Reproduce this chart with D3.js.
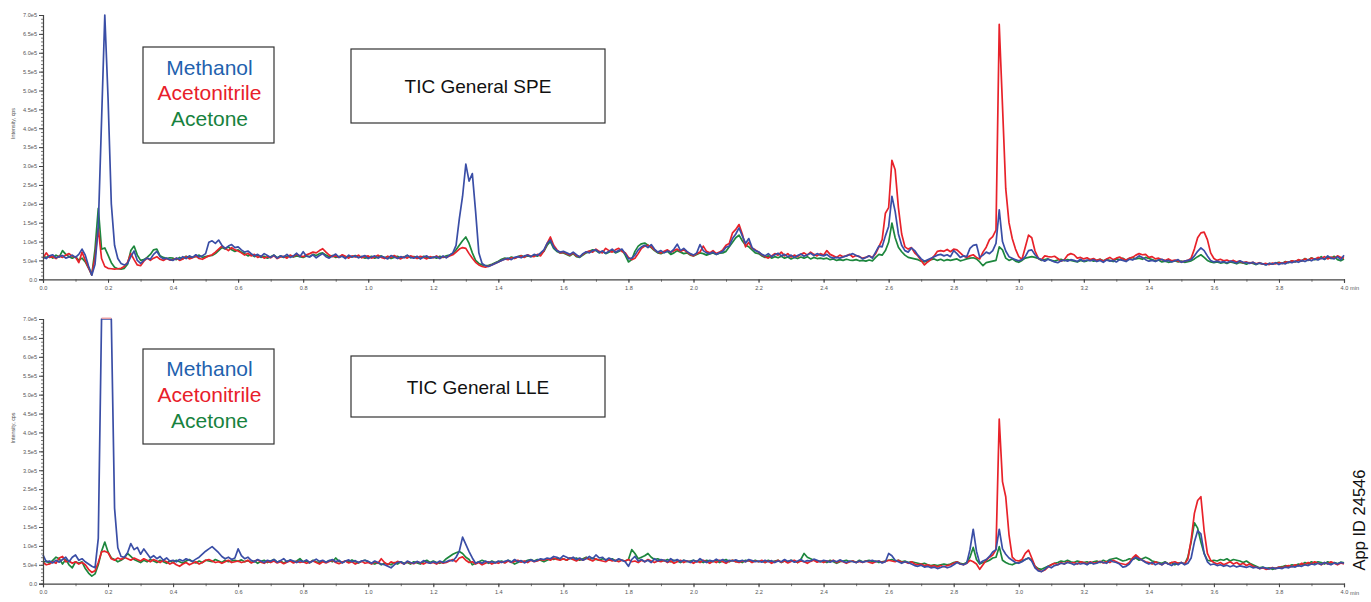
<!DOCTYPE html>
<html>
<head>
<meta charset="utf-8">
<script src="https://cdn.jsdelivr.net/npm/d3@7"></script>
<style>
  html, body { margin: 0; padding: 0; background: #fff; }
  svg { display: block; font-family: "Liberation Sans", Arial, Helvetica, sans-serif; }
</style>
</head>
<body>
<div id="chart"></div>
<script>
// Total ion chromatograms, one reading every 0.01 min from 0.00 to 4.00 min.
// Intensities are in units of 1e4 cps.
const startMin = 0;
const stepMin = 0.01;

const seriesNames = ["Methanol", "Acetonitrile", "Acetone"];

// ---- General SPE ----
const speMethanol = [
  5.8, 5.5, 6.2, 6.5, 5.7, 6.0, 6.3, 5.6, 5.9, 6.4, 5.8, 6.6, 8.0, 6.4, 3.5, 1.1, 4.0, 14, 42, 70,
  48, 20, 9, 5.5, 4.2, 3.8, 4.2, 6.0, 7.5, 5.0, 4.2, 5.0, 5.6, 5.3, 6.6, 7.4, 6.0, 5.4, 5.6, 5.2,
  5.0, 5.6, 5.3, 6.0, 5.5, 6.2, 5.8, 6.5, 5.9, 6.2, 6.8, 9.8, 10.2, 9.5, 10.4, 9.0, 8.2, 8.8, 9.2, 8.4,
  8.6, 7.8, 7.2, 7.5, 6.8, 6.2, 6.6, 6.0, 6.8, 6.3, 5.8, 6.4, 5.6, 6.2, 5.9, 6.6, 5.8, 6.2, 6.9, 6.0,
  7.3, 6.1, 5.9, 6.5, 5.7, 6.3, 6.8, 6.0, 5.6, 6.2, 6.7, 5.8, 6.1, 5.5, 6.4, 5.9, 6.2, 5.7, 6.0, 6.3,
  5.5, 5.9, 6.2, 5.6, 6.1, 5.8, 5.4, 6.3, 5.9, 5.5, 6.0, 5.7, 6.4, 5.8, 5.6, 6.1, 5.4, 5.9, 6.2, 5.6,
  5.8, 6.0, 5.5, 6.2, 5.7, 6.4, 7.0, 9.0, 16, 22, 30.5, 26, 28, 18, 7.0, 4.2, 3.6, 3.4, 3.8, 4.2,
  4.6, 5.0, 5.3, 5.6, 5.2, 5.8, 6.0, 5.7, 6.2, 6.4, 6.0, 6.6, 6.3, 7.0, 7.8, 9.5, 10.4, 8.5, 7.6, 7.2,
  7.4, 7.0, 6.6, 7.2, 6.5, 5.9, 6.8, 7.3, 7.0, 7.6, 7.8, 7.1, 7.5, 6.9, 7.4, 8.0, 7.2, 7.6, 8.0, 6.8,
  5.4, 5.6, 6.4, 7.8, 8.6, 9.0, 8.4, 9.2, 8.0, 7.2, 7.6, 7.0, 7.5, 7.2, 8.0, 9.3, 7.6, 8.2, 7.4, 6.8,
  6.4, 7.0, 9.2, 7.6, 7.0, 6.8, 7.2, 6.6, 7.0, 7.4, 8.5, 8.8, 10.8, 12.0, 13.6, 11.5, 9.5, 10.8, 8.4, 7.6,
  7.3, 6.6, 6.2, 6.8, 6.0, 6.5, 6.9, 6.2, 6.6, 6.0, 6.4, 5.8, 6.3, 6.7, 6.1, 6.5, 6.9, 6.3, 6.8, 6.4,
  6.2, 6.6, 5.9, 5.6, 5.8, 5.6, 5.9, 6.2, 6.5, 6.8, 6.3, 6.0, 5.4, 5.8, 6.2, 5.6, 7.2, 8.8, 8.6, 11.5,
  14, 22, 18, 12, 9, 7.6, 7.2, 8.3, 7.6, 6.4, 5.4, 4.8, 5.2, 5.6, 6.0, 6.4, 6.6, 6.2, 6.5, 6.0,
  7.6, 6.8, 5.8, 6.2, 6.0, 8.2, 9.0, 9.2, 5.8, 6.4, 7.2, 6.8, 7.6, 9.5, 18.4, 10, 7.5, 6.0, 5.6, 5.2,
  4.9, 5.2, 6.0, 7.6, 7.8, 6.5, 5.6, 5.2, 4.8, 5.3, 5.0, 4.6, 4.4, 4.9, 5.1, 4.8, 5.2, 5.0, 4.7, 5.3,
  4.8, 5.1, 4.9, 5.2, 4.7, 5.0, 4.5, 5.1, 4.8, 5.0, 4.6, 5.2, 5.0, 4.7, 5.3, 5.1, 5.6, 6.2, 5.8, 5.2,
  4.8, 5.0, 4.7, 5.1, 5.3, 4.8, 5.0, 4.6, 4.9, 5.2, 4.5, 4.8, 5.0, 5.2, 6.2, 7.4, 8.3, 7.6, 6.2, 5.0,
  4.6, 4.8, 4.5, 4.7, 4.4, 4.8, 4.6, 4.3, 4.9, 4.5, 4.4, 4.2, 4.5, 4.0, 4.3, 4.1, 3.8, 4.2, 4.0, 4.4,
  3.9, 4.3, 4.1, 4.6, 4.4, 4.8, 4.5, 5.0, 4.7, 5.2, 4.9, 5.4, 5.1, 5.6, 5.3, 6.2, 5.6, 5.4, 6.0, 5.2,
  6.4
];
const speAcetonitrile = [
  5.6, 7.0, 5.8, 6.0, 5.5, 6.2, 5.8, 6.4, 6.8, 6.1, 5.9, 4.4, 7.2, 5.0, 3.0, 1.2, 6.0, 13.5, 5.5, 3.4,
  2.9, 2.8, 2.7, 2.8, 2.9, 3.4, 4.5, 6.8, 5.2, 3.8, 3.6, 4.8, 5.6, 5.0, 5.6, 6.0, 5.3, 5.0, 5.5, 5.1,
  5.2, 5.6, 5.0, 5.4, 6.0, 5.4, 5.7, 6.2, 5.5, 5.3, 5.8, 6.2, 6.5, 7.2, 8.0, 8.8, 8.2, 7.6, 8.4, 7.8,
  7.5, 7.0, 6.4, 6.9, 6.2, 6.6, 5.8, 6.2, 5.6, 6.0, 5.7, 6.3, 5.5, 5.9, 6.1, 5.6, 6.4, 6.0, 6.6, 6.2,
  6.0, 6.5, 6.8, 7.2, 7.0, 7.6, 8.1, 7.2, 6.4, 6.0, 6.2, 5.8, 6.5, 6.1, 5.6, 6.2, 5.9, 6.4, 5.7, 6.0,
  6.2, 5.6, 5.9, 6.4, 5.8, 5.5, 6.1, 5.8, 6.3, 5.7, 5.4, 6.0, 5.6, 6.2, 5.9, 5.5, 6.1, 5.8, 5.4, 6.0,
  5.7, 6.2, 5.6, 6.0, 5.8, 6.2, 6.5, 7.2, 8.0, 8.4, 8.2, 6.8, 5.6, 4.5, 3.8, 3.4, 3.2, 3.5, 3.8, 4.2,
  4.6, 5.0, 5.4, 5.2, 5.7, 5.5, 5.9, 6.2, 5.8, 6.5, 6.1, 6.0, 6.6, 6.2, 7.5, 9.5, 11.2, 9.0, 7.8, 7.0,
  7.2, 6.8, 6.4, 7.0, 6.2, 6.0, 6.6, 7.2, 7.5, 7.2, 8.0, 7.4, 7.0, 8.2, 7.6, 7.2, 7.8, 8.2, 7.4, 7.0,
  5.8, 5.2, 5.6, 6.8, 8.2, 8.8, 9.0, 8.6, 7.8, 7.2, 7.0, 7.4, 7.8, 7.2, 7.6, 8.0, 7.4, 7.8, 7.2, 6.6,
  6.2, 6.8, 7.2, 8.8, 7.4, 7.0, 7.6, 6.8, 7.2, 7.8, 9.0, 9.5, 12.3, 13.2, 14.5, 12.0, 8.6, 9.8, 8.2, 7.8,
  7.2, 6.5, 6.0, 5.6, 6.2, 6.8, 6.4, 7.2, 6.2, 6.8, 5.9, 6.4, 6.0, 6.6, 7.0, 6.4, 7.2, 6.6, 6.2, 6.8,
  6.4, 7.6, 6.6, 6.2, 5.8, 6.4, 6.0, 6.2, 6.6, 5.9, 6.3, 6.0, 5.6, 5.8, 6.2, 5.8, 6.8, 8.6, 10.5, 17.5,
  19, 31.5, 29, 19, 12, 8.6, 8.0, 8.4, 7.0, 6.2, 5.0, 3.8, 4.6, 5.2, 6.2, 7.4, 7.6, 7.4, 7.9, 7.3,
  8.0, 7.8, 7.0, 6.2, 5.8, 6.2, 6.5, 5.8, 5.4, 7.2, 8.5, 10.5, 11.3, 13, 67.5, 46, 24, 15, 10.8, 8,
  6.0, 5.3, 8.5, 11.7, 11.0, 7.5, 5.6, 5.2, 6.2, 6.0, 5.9, 6.1, 5.5, 4.8, 5.2, 6.4, 6.8, 6.5, 5.6, 5.8,
  5.4, 5.7, 5.2, 5.5, 5.0, 5.3, 4.8, 5.4, 5.8, 5.2, 5.6, 5.9, 5.4, 5.1, 5.6, 5.8, 6.4, 6.8, 6.5, 6.6,
  5.8, 6.0, 5.4, 5.6, 5.2, 5.0, 5.4, 4.9, 5.1, 4.8, 4.6, 4.8, 5.0, 5.6, 8.0, 11.0, 12.3, 12.5, 10.5, 7.0,
  5.5, 5.0, 5.3, 4.9, 5.1, 4.7, 5.0, 4.6, 4.8, 4.4, 4.6, 4.3, 4.5, 4.1, 4.4, 4.0, 4.2, 3.9, 4.3, 4.1,
  4.4, 4.2, 4.6, 4.5, 4.9, 4.7, 5.2, 4.9, 5.4, 5.1, 5.6, 5.3, 5.8, 5.5, 6.0, 5.4, 5.9, 5.6, 6.2, 5.8,
  5.6
];
const speAcetone = [
  6.0, 5.8, 6.2, 5.6, 6.4, 5.9, 7.6, 6.6, 6.0, 5.6, 6.0, 5.0, 5.6, 4.6, 3.0, 1.2, 8.0, 18.8, 8.0, 8.3,
  6.4, 4.4, 3.2, 2.8, 2.7, 2.9, 4.0, 7.6, 8.8, 6.4, 5.0, 5.2, 5.8, 6.6, 7.8, 8.0, 6.2, 5.8, 5.5, 5.7,
  5.6, 5.2, 5.8, 5.4, 6.1, 5.7, 5.9, 6.0, 6.4, 5.8, 6.0, 6.2, 6.3, 6.8, 7.6, 8.4, 8.0, 8.6, 7.8, 7.4,
  7.8, 7.2, 6.8, 6.2, 6.6, 6.0, 6.4, 5.8, 6.1, 5.6, 6.0, 6.4, 5.7, 6.2, 5.8, 6.0, 6.3, 5.9, 6.2, 6.0,
  5.8, 6.2, 6.0, 6.6, 6.3, 6.8, 7.0, 6.4, 6.0, 6.3, 5.8, 6.0, 6.2, 5.7, 6.1, 5.9, 6.3, 5.8, 6.0, 5.6,
  5.8, 6.1, 5.6, 5.9, 6.2, 5.7, 6.0, 5.5, 5.8, 6.1, 5.6, 5.9, 6.3, 5.7, 6.0, 5.8, 5.5, 6.1, 5.8, 5.6,
  5.9, 5.6, 6.1, 5.8, 6.2, 6.4, 6.8, 7.8, 9.0, 10.2, 11.2, 9.5, 7.0, 5.0, 4.2, 3.8, 3.6, 3.7, 4.0, 4.4,
  4.8, 5.3, 5.6, 5.4, 5.9, 5.6, 6.0, 6.3, 5.9, 6.2, 6.0, 6.4, 6.1, 6.8, 7.4, 9.0, 10.0, 8.2, 7.4, 7.0,
  7.0, 6.6, 6.2, 6.8, 6.0, 5.8, 6.4, 7.0, 7.4, 7.8, 7.6, 7.0, 7.4, 6.8, 7.2, 7.6, 7.0, 7.4, 7.8, 6.4,
  4.6, 5.2, 7.4, 8.8, 9.4, 9.6, 9.0, 8.4, 7.6, 7.0, 6.8, 7.2, 7.4, 6.6, 7.0, 7.6, 7.2, 6.8, 7.0, 6.4,
  6.2, 6.6, 7.0, 6.8, 6.4, 6.7, 7.0, 6.6, 6.9, 7.0, 7.4, 8.6, 9.8, 11.0, 11.7, 10.2, 9.0, 8.6, 7.8, 7.0,
  6.8, 6.2, 5.8, 6.2, 5.6, 6.0, 5.7, 6.1, 5.6, 5.9, 5.4, 5.8, 5.5, 5.9, 5.6, 6.0, 5.4, 5.8, 5.5, 5.6,
  5.4, 5.6, 5.2, 5.4, 5.0, 5.2, 5.0, 5.3, 5.1, 5.0, 5.2, 4.9, 5.0, 4.8, 5.1, 4.9, 5.8, 6.6, 6.4, 7.6,
  9.8, 14.9, 11.0, 8.5, 7.3, 6.4, 5.8, 5.6, 5.4, 5.2, 4.8, 4.6, 4.9, 5.2, 5.4, 5.0, 5.3, 4.9, 5.2, 5.0,
  5.2, 5.4, 4.9, 5.1, 5.4, 5.6, 5.7, 5.4, 4.6, 3.6, 4.4, 4.6, 4.8, 5.0, 8.6, 7.8, 5.6, 5.0, 5.4, 4.8,
  4.5, 5.0, 5.6, 5.8, 6.0, 5.8, 5.5, 5.0, 5.2, 5.4, 5.0, 4.8, 5.1, 5.3, 4.9, 5.2, 5.0, 4.8, 4.6, 5.0,
  4.7, 4.9, 5.2, 4.8, 5.0, 5.3, 4.9, 5.2, 5.0, 4.7, 5.4, 5.2, 5.6, 5.0, 5.5, 5.8, 5.4, 5.6, 5.3, 5.8,
  5.5, 5.2, 4.9, 5.1, 4.6, 4.8, 4.5, 4.7, 4.9, 4.6, 4.8, 4.5, 4.7, 4.9, 5.4, 6.0, 6.5, 5.8, 5.0, 4.6,
  4.4, 4.6, 4.3, 4.5, 4.2, 4.6, 4.4, 4.1, 4.5, 4.3, 4.0, 4.4, 4.2, 3.9, 4.3, 4.1, 3.9, 4.2, 4.0, 4.3,
  4.5, 4.2, 4.7, 4.4, 4.9, 4.6, 5.1, 4.8, 5.5, 5.0, 5.7, 5.2, 5.4, 6.0, 5.3, 5.8, 5.5, 6.1, 5.2, 4.9,
  5.4
];

// ---- General LLE ----  (methanol saturates the detector near 0.2 min)
const lleMethanol = [
  7.6, 5.8, 6.0, 5.5, 6.2, 5.7, 6.4, 7.0, 5.8, 7.0, 7.6, 6.2, 6.6, 5.8, 5.2, 4.6, 4.2, 12, 82, 95,
  90, 76, 20, 9.5, 7.2, 7.0, 8.2, 10.6, 9.0, 9.6, 7.8, 9.2, 8.0, 6.8, 7.4, 6.6, 7.2, 6.2, 6.8, 6.0,
  6.2, 5.8, 6.4, 6.0, 6.6, 6.2, 5.9, 6.5, 7.0, 7.8, 8.6, 9.2, 9.8, 9.0, 8.2, 7.2, 6.6, 7.0, 6.4, 6.8,
  9.2, 7.4, 6.6, 7.0, 6.2, 5.8, 6.4, 6.0, 5.6, 6.2, 5.9, 6.4, 5.7, 6.1, 6.6, 5.8, 6.3, 6.0, 5.6, 6.1,
  5.8, 6.3, 5.6, 6.0, 6.5, 5.9, 6.2, 5.7, 6.1, 6.4, 5.8, 6.2, 5.5, 6.0, 6.3, 5.8, 6.1, 5.6, 6.0, 6.2,
  5.9, 5.4, 6.0, 5.6, 5.2, 5.0, 4.6, 4.2, 5.0, 5.6, 5.8, 5.2, 6.0, 5.6, 5.4, 5.9, 5.5, 6.1, 5.7, 5.4,
  5.8, 5.5, 6.0, 5.6, 5.8, 6.2, 6.0, 7.0, 8.6, 12.3, 10.4, 8.5, 6.8, 5.4, 5.8, 5.4, 6.0, 5.6, 5.8, 5.5,
  6.0, 5.6, 5.9, 6.2, 5.7, 6.4, 5.8, 6.1, 5.5, 6.0, 6.3, 5.9, 6.2, 6.6, 6.4, 6.8, 6.6, 7.2, 7.0, 6.6,
  7.4, 7.0, 6.6, 7.0, 6.4, 6.8, 6.2, 6.6, 7.2, 6.6, 7.6, 6.8, 7.0, 6.2, 6.8, 6.4, 6.0, 6.6, 6.2, 5.8,
  4.6, 6.4, 7.2, 6.0, 6.4, 5.8, 6.2, 5.6, 6.6, 6.0, 6.4, 6.2, 5.8, 6.6, 6.0, 6.4, 5.8, 6.2, 6.0, 5.6,
  6.2, 5.8, 6.6, 6.0, 5.6, 6.2, 5.9, 6.5, 6.0, 6.4, 5.8, 6.2, 6.0, 6.3, 5.9, 6.2, 5.8, 6.4, 6.1, 5.8,
  6.0, 5.7, 6.2, 5.8, 6.1, 5.6, 6.0, 5.8, 6.4, 5.9, 6.2, 5.7, 6.0, 6.4, 5.8, 6.1, 6.0, 6.5, 6.2, 5.8,
  6.2, 6.0, 5.7, 6.1, 5.8, 6.3, 5.9, 5.6, 6.0, 5.8, 5.6, 6.0, 5.7, 5.9, 6.0, 6.2, 5.8, 6.0, 5.5, 5.8,
  8.0, 7.4, 6.2, 5.8, 5.4, 5.8, 5.6, 5.2, 4.8, 4.6, 4.9, 4.4, 4.6, 4.2, 4.4, 4.0, 4.3, 4.6, 4.2, 4.5,
  5.0, 5.6, 5.2, 5.0, 5.4, 9.0, 14.4, 8.6, 5.4, 6.0, 6.4, 7.2, 8.4, 9.0, 14.4, 9.2, 7.8, 6.8, 6.2, 5.6,
  5.4, 5.8, 6.4, 6.8, 6.0, 4.2, 3.4, 3.2, 3.8, 4.6, 4.2, 4.8, 5.0, 5.4, 5.2, 5.6, 5.4, 5.0, 5.4, 5.2,
  5.4, 5.0, 5.6, 5.2, 5.4, 5.8, 5.6, 5.4, 6.2, 5.8, 5.6, 5.2, 4.4, 4.6, 5.2, 6.4, 7.0, 6.6, 6.2, 5.6,
  5.2, 5.6, 5.0, 5.4, 5.0, 5.6, 5.2, 4.8, 5.4, 5.0, 5.6, 5.0, 5.4, 6.8, 11.0, 14.0, 13.2, 8.0, 5.8, 5.0,
  5.2, 4.8, 5.0, 4.6, 4.9, 4.5, 4.8, 4.4, 4.7, 4.5, 4.3, 4.6, 4.2, 4.4, 4.0, 4.3, 4.1, 3.9, 4.2, 4.0,
  4.2, 4.0, 4.4, 4.2, 4.6, 4.4, 4.8, 4.6, 5.0, 4.8, 5.2, 5.0, 5.4, 5.1, 5.6, 5.3, 5.0, 5.5, 5.2, 5.6,
  5.4
];
const lleAcetonitrile = [
  5.6, 5.0, 5.2, 5.8, 5.4, 6.8, 7.2, 5.8, 6.0, 5.4, 5.8, 5.2, 5.6, 5.0, 3.8, 3.0, 3.4, 5.6, 8.4, 8.6,
  8.2, 6.6, 6.2, 6.8, 6.4, 7.0, 6.6, 6.2, 6.8, 6.4, 6.0, 6.6, 6.2, 5.8, 6.4, 6.0, 5.6, 6.2, 5.8, 5.2,
  5.6, 5.0, 4.6, 5.2, 5.6, 5.0, 5.4, 5.8, 5.2, 5.6, 6.2, 6.4, 6.0, 5.6, 5.8, 5.4, 5.8, 6.2, 5.6, 5.8,
  6.0, 5.6, 5.8, 6.2, 5.5, 5.9, 6.3, 5.7, 5.4, 5.9, 5.6, 6.0, 5.5, 5.8, 5.3, 5.7, 6.0, 5.5, 5.9, 5.6,
  5.8, 5.4, 5.7, 6.0, 5.6, 5.2, 5.8, 5.5, 5.9, 6.2, 5.6, 5.3, 5.7, 6.0, 5.5, 5.8, 5.2, 5.6, 5.9, 5.4,
  5.6, 5.2, 5.8, 5.4, 6.6, 5.6, 5.0, 5.8, 5.4, 5.9, 5.6, 5.2, 5.8, 5.5, 5.3, 5.8, 5.5, 5.2, 5.7, 5.4,
  5.6, 5.2, 5.8, 5.4, 5.6, 6.0, 6.4, 5.8, 6.8, 7.1, 6.2, 5.6, 5.8, 5.2, 5.6, 5.0, 5.4, 5.8, 5.2, 5.6,
  5.4, 5.8, 5.5, 6.0, 5.6, 5.9, 6.2, 5.7, 6.0, 5.6, 6.2, 5.8, 6.0, 6.4, 6.2, 6.6, 6.2, 6.8, 6.4, 6.2,
  6.6, 6.2, 6.8, 6.4, 6.0, 6.6, 6.2, 6.8, 6.4, 6.0, 6.6, 6.2, 6.0, 5.8, 6.4, 6.0, 6.2, 5.8, 6.2, 6.0,
  6.4, 5.8, 6.0, 5.6, 6.2, 5.8, 6.4, 6.0, 5.6, 6.0, 5.8, 6.2, 5.6, 6.0, 5.4, 5.8, 6.2, 5.6, 6.0, 5.8,
  5.4, 6.0, 5.6, 6.2, 5.8, 5.4, 6.0, 5.6, 6.2, 5.8, 5.4, 6.0, 6.2, 5.8, 5.6, 6.0, 5.8, 6.2, 5.6, 6.0,
  5.8, 6.2, 5.6, 6.0, 5.4, 5.8, 6.2, 5.7, 6.0, 5.5, 5.9, 6.2, 5.6, 6.0, 5.8, 5.4, 5.9, 6.2, 5.7, 6.0,
  5.6, 6.0, 5.8, 6.2, 5.6, 6.0, 5.8, 5.4, 5.8, 6.0, 5.6, 5.9, 5.6, 6.0, 5.7, 5.4, 5.8, 6.0, 5.6, 5.9,
  6.2, 6.0, 5.8, 6.2, 5.6, 5.8, 5.4, 5.8, 5.2, 5.0, 5.2, 4.8, 5.0, 4.6, 4.8, 4.4, 4.8, 4.5, 4.8, 5.0,
  5.4, 5.8, 5.2, 5.0, 5.4, 6.2, 5.8, 5.2, 3.8, 5.0, 6.2, 7.0, 7.6, 9.0, 43.5, 27, 23, 13, 7.0, 6.2,
  6.0, 6.4, 8.0, 8.9, 6.8, 4.6, 3.6, 3.2, 3.6, 4.4, 5.0, 5.4, 5.0, 5.6, 5.2, 5.8, 5.4, 5.6, 5.2, 5.8,
  5.6, 5.2, 5.8, 5.4, 5.6, 5.9, 5.5, 5.8, 5.6, 6.2, 5.8, 5.4, 5.2, 5.0, 5.6, 6.8, 7.6, 6.8, 6.2, 5.8,
  5.6, 5.2, 5.8, 5.4, 5.0, 5.6, 5.2, 5.6, 5.8, 5.4, 5.6, 5.2, 6.5, 11.5, 18.6, 22.0, 23.0, 14.0, 8.0, 6.2,
  5.6, 5.2, 5.6, 5.0, 5.4, 5.8, 5.2, 5.6, 5.0, 5.4, 4.8, 5.2, 4.6, 4.4, 4.0, 4.2, 3.8, 4.0, 4.3, 4.0,
  4.4, 4.2, 4.6, 4.8, 4.5, 5.0, 4.7, 5.4, 5.0, 5.6, 5.2, 5.8, 5.4, 5.0, 5.6, 5.2, 5.8, 5.4, 5.0, 5.5,
  5.2
];
const lleAcetone = [
  5.6, 6.0, 5.4, 6.2, 7.0, 6.6, 5.2, 6.4, 5.0, 4.2, 5.8, 5.4, 5.8, 4.0, 2.8, 2.0, 2.6, 5.0, 8.6, 11.0,
  8.4, 6.8, 6.4, 5.8, 6.2, 6.8, 8.0, 7.2, 6.4, 6.0, 5.6, 6.2, 5.8, 6.4, 6.0, 5.6, 6.2, 5.8, 5.4, 6.0,
  5.6, 6.2, 5.8, 5.4, 6.0, 6.4, 5.8, 5.5, 6.0, 5.6, 6.2, 6.0, 5.8, 6.4, 6.0, 5.6, 6.2, 5.8, 6.0, 6.2,
  5.9, 6.3, 5.8, 6.1, 5.6, 6.0, 5.4, 5.9, 6.2, 5.6, 6.0, 6.4, 5.7, 6.0, 5.5, 5.9, 6.2, 5.8, 6.0, 6.6,
  5.8, 6.0, 5.5, 6.2, 5.8, 5.6, 6.0, 5.7, 6.1, 5.8, 6.8, 5.9, 5.6, 6.0, 5.7, 6.3, 5.8, 5.5, 6.0, 6.2,
  5.8, 5.4, 5.2, 5.6, 5.0, 5.4, 5.2, 5.0, 5.6, 5.2, 5.8, 5.4, 5.6, 5.2, 5.8, 5.5, 5.2, 5.8, 6.2, 5.6,
  6.0, 5.6, 5.4, 5.8, 6.6, 7.2, 7.8, 8.2, 8.5, 8.0, 7.0, 6.4, 5.0, 5.4, 5.8, 6.2, 5.8, 5.4, 6.0, 5.6,
  5.8, 6.0, 5.6, 6.2, 5.8, 5.2, 5.6, 6.0, 5.8, 6.2, 6.4, 6.0, 6.4, 6.2, 5.8, 6.2, 6.6, 6.4, 6.8, 6.4,
  6.6, 6.2, 6.8, 6.4, 6.8, 6.2, 6.6, 7.0, 6.4, 6.8, 6.4, 6.2, 6.6, 6.4, 6.2, 6.6, 6.0, 6.4, 6.2, 6.0,
  6.4, 9.0, 8.0, 6.6, 7.0, 7.4, 8.0, 7.0, 6.4, 6.6, 6.2, 6.0, 6.4, 5.8, 6.2, 6.0, 5.6, 6.2, 5.8, 6.0,
  6.2, 5.8, 6.0, 5.6, 6.2, 6.0, 5.8, 6.2, 5.6, 6.0, 6.4, 5.8, 6.2, 5.8, 6.0, 5.6, 6.2, 6.0, 5.8, 6.2,
  5.8, 6.0, 5.6, 6.2, 5.8, 6.0, 6.2, 5.6, 6.0, 5.8, 6.2, 6.0, 5.6, 6.4, 8.0, 7.0, 6.6, 6.2, 6.0, 5.8,
  6.0, 5.6, 6.2, 5.8, 5.4, 5.8, 6.0, 6.2, 5.8, 6.0, 5.6, 6.2, 5.8, 6.0, 6.2, 5.8, 6.0, 5.6, 5.8, 6.0,
  6.2, 6.4, 6.0, 6.2, 5.8, 6.0, 5.6, 5.8, 5.6, 5.4, 5.2, 5.4, 5.0, 4.8, 5.0, 4.8, 5.0, 5.2, 5.0, 5.2,
  5.6, 5.8, 5.4, 5.2, 5.6, 7.0, 9.6, 6.4, 5.2, 5.6, 5.8, 6.2, 6.8, 7.0, 9.8, 6.2, 5.6, 5.2, 5.0, 5.4,
  5.6, 6.0, 6.4, 6.8, 6.2, 4.6, 4.0, 3.8, 4.2, 4.6, 5.0, 5.4, 5.6, 6.0, 5.8, 6.2, 5.8, 5.6, 6.0, 5.8,
  5.6, 5.8, 5.4, 5.8, 6.0, 5.6, 6.2, 5.8, 6.4, 6.6, 6.8, 6.4, 6.0, 6.2, 6.6, 6.4, 6.8, 6.2, 6.6, 7.0,
  6.6, 6.0, 5.8, 5.6, 5.4, 5.8, 5.2, 5.6, 5.0, 5.4, 5.6, 5.2, 7.0, 11.0, 16.1, 14.7, 11.0, 8.0, 6.2, 6.0,
  6.2, 6.0, 6.4, 6.2, 6.6, 6.0, 6.4, 6.2, 6.0, 5.6, 6.0, 5.4, 5.0, 4.6, 4.2, 4.4, 4.0, 4.2, 3.8, 4.1,
  4.3, 4.5, 4.8, 4.6, 5.0, 4.8, 5.2, 5.0, 5.6, 5.2, 5.8, 5.4, 5.8, 5.6, 5.2, 5.8, 5.4, 5.6, 5.3, 5.7,
  5.5
];

// Axis ticks (intensity in 1e4 cps, time in min)
const yTickValues = [0, 5, 10, 15, 20, 25, 30, 35, 40, 45, 50, 55, 60, 65, 70];
const yTickLabels = ["0.0", "5.0e4", "1.0e5", "1.5e5", "2.0e5", "2.5e5", "3.0e5", "3.5e5",
                     "4.0e5", "4.5e5", "5.0e5", "5.5e5", "6.0e5", "6.5e5", "7.0e5"];
const xTickValues = [0.0, 0.2, 0.4, 0.6, 0.8, 1.0, 1.2, 1.4, 1.6, 1.8, 2.0,
                     2.2, 2.4, 2.6, 2.8, 3.0, 3.2, 3.4, 3.6, 3.8, 4.0];
const xTickLabels = ["0.0", "0.2", "0.4", "0.6", "0.8", "1.0", "1.2", "1.4", "1.6", "1.8", "2.0",
                     "2.2", "2.4", "2.6", "2.8", "3.0", "3.2", "3.4", "3.6", "3.8", "4.0"];

const lineColors   = { Methanol: "#3a4ea6", Acetonitrile: "#e8222a", Acetone: "#1d873d" };
const legendColors = { Methanol: "#1f62ae", Acetonitrile: "#e8202a", Acetone: "#17823e" };
const drawOrder = ["Acetone", "Acetonitrile", "Methanol"];

const width = 1371, height = 602;
const svg = d3.select("#chart").append("svg")
  .attr("width", width).attr("height", height)
  .attr("viewBox", `0 0 ${width} ${height}`);

const x = d3.scaleLinear().domain([0, 4]).range([43, 1344]);
const yMax = 70;

const panels = [
  {
    title: "TIC General SPE",
    data: { Methanol: speMethanol, Acetonitrile: speAcetonitrile, Acetone: speAcetone },
    plotTop: 15, plotBottom: 279.3,
    legendBox: { x: 143, y: 47, w: 131, h: 96 }, legendBaselines: [74.5, 100, 125.5],
    titleBox: { x: 351, y: 49, w: 254, h: 74 }, titleBaseline: 93,
    axisTitleY: 123.5
  },
  {
    title: "TIC General LLE",
    data: { Methanol: lleMethanol, Acetonitrile: lleAcetonitrile, Acetone: lleAcetone },
    plotTop: 319, plotBottom: 583.7,
    legendBox: { x: 143, y: 349, w: 131, h: 95 }, legendBaselines: [376, 402, 427.5],
    titleBox: { x: 351, y: 356, w: 254, h: 61 }, titleBaseline: 393.5,
    axisTitleY: 428
  }
];

const timeAt = i => startMin + i * stepMin;

panels.forEach(p => {
  const g = svg.append("g");
  const y = d3.scaleLinear().domain([0, yMax]).range([p.plotBottom, p.plotTop]);

  // traces, clamped at the top of the intensity scale
  const line = d3.line()
    .x((d, i) => x(timeAt(i)))
    .y(d => y(Math.min(d, yMax)));

  drawOrder.forEach(name => {
    g.append("path")
      .datum(p.data[name])
      .attr("fill", "none")
      .attr("stroke", lineColors[name])
      .attr("stroke-width", 1.7)
      .attr("stroke-linejoin", "round")
      .attr("d", line);
  });

  // saturation marker along the top where a trace runs off scale
  seriesNames.forEach(name => {
    const over = d3.line()
      .defined(d => d > yMax)
      .x((d, i) => x(timeAt(i)))
      .y(() => y(yMax) - 0.8);
    g.append("path")
      .datum(p.data[name])
      .attr("fill", "none")
      .attr("stroke", "#f3a3a3")
      .attr("stroke-width", 1.4)
      .attr("d", over);
  });

  // y axis: labelled every 5e4, minor every 1e4
  const yMinor = g.append("g")
    .attr("transform", `translate(${x(0)},0)`)
    .call(d3.axisLeft(y).tickValues(d3.range(0, yMax + 1, 1)).tickSize(2).tickFormat(""));
  yMinor.select(".domain").remove();
  yMinor.selectAll("line").attr("stroke", "#555").attr("stroke-width", 0.8);

  const yAxis = g.append("g")
    .attr("transform", `translate(${x(0)},0)`)
    .call(d3.axisLeft(y).tickValues(yTickValues).tickSize(4).tickPadding(2)
      .tickFormat((d, i) => yTickLabels[i]));
  yAxis.select(".domain").attr("stroke", "#444").attr("stroke-width", 1.2);
  yAxis.selectAll("line").attr("stroke", "#444").attr("stroke-width", 1);
  yAxis.selectAll("text").attr("fill", "#555").style("font-size", "5.6px")
    .style("font-family", "'Liberation Sans', Arial, sans-serif");

  // x axis: labelled every 0.2 min, minor every 0.1 min
  const xMinor = g.append("g")
    .attr("transform", `translate(0,${p.plotBottom})`)
    .call(d3.axisBottom(x).tickValues(d3.range(0, 4.001, 0.1)).tickSize(2.5).tickFormat(""));
  xMinor.select(".domain").remove();
  xMinor.selectAll("line").attr("stroke", "#555").attr("stroke-width", 0.8);

  const xAxis = g.append("g")
    .attr("transform", `translate(0,${p.plotBottom})`)
    .call(d3.axisBottom(x).tickValues(xTickValues).tickSize(3.5).tickPadding(3)
      .tickFormat((d, i) => xTickLabels[i]));
  xAxis.select(".domain").attr("stroke", "#444").attr("stroke-width", 1.2);
  xAxis.selectAll("line").attr("stroke", "#444").attr("stroke-width", 1);
  xAxis.selectAll("text").attr("fill", "#555").style("font-size", "5.6px")
    .style("font-family", "'Liberation Sans', Arial, sans-serif");

  g.append("text")
    .attr("x", 1350).attr("y", p.plotBottom + 11)
    .attr("fill", "#555").style("font-size", "5.6px")
    .text("min");

  g.append("text")
    .attr("transform", `translate(15,${p.axisTitleY}) rotate(-90)`)
    .attr("text-anchor", "middle")
    .attr("fill", "#555").style("font-size", "5.4px")
    .text("Intensity, cps");

  // legend box
  g.append("rect")
    .attr("x", p.legendBox.x).attr("y", p.legendBox.y)
    .attr("width", p.legendBox.w).attr("height", p.legendBox.h)
    .attr("fill", "#fff").attr("stroke", "#333").attr("stroke-width", 1.2);
  seriesNames.forEach((name, i) => {
    g.append("text")
      .attr("x", p.legendBox.x + p.legendBox.w / 2 + 1)
      .attr("y", p.legendBaselines[i])
      .attr("text-anchor", "middle")
      .attr("fill", legendColors[name])
      .style("font-size", "21px")
      .text(name);
  });

  // title box
  g.append("rect")
    .attr("x", p.titleBox.x).attr("y", p.titleBox.y)
    .attr("width", p.titleBox.w).attr("height", p.titleBox.h)
    .attr("fill", "#fff").attr("stroke", "#333").attr("stroke-width", 1.2);
  g.append("text")
    .attr("x", p.titleBox.x + p.titleBox.w / 2)
    .attr("y", p.titleBaseline)
    .attr("text-anchor", "middle")
    .attr("fill", "#111")
    .style("font-size", "19px")
    .text(p.title);
});

svg.append("text")
  .attr("transform", "translate(1365,520) rotate(-90)")
  .attr("text-anchor", "middle")
  .attr("fill", "#111")
  .style("font-size", "16.5px")
  .text("App ID 24546");
</script>
</body>
</html>
